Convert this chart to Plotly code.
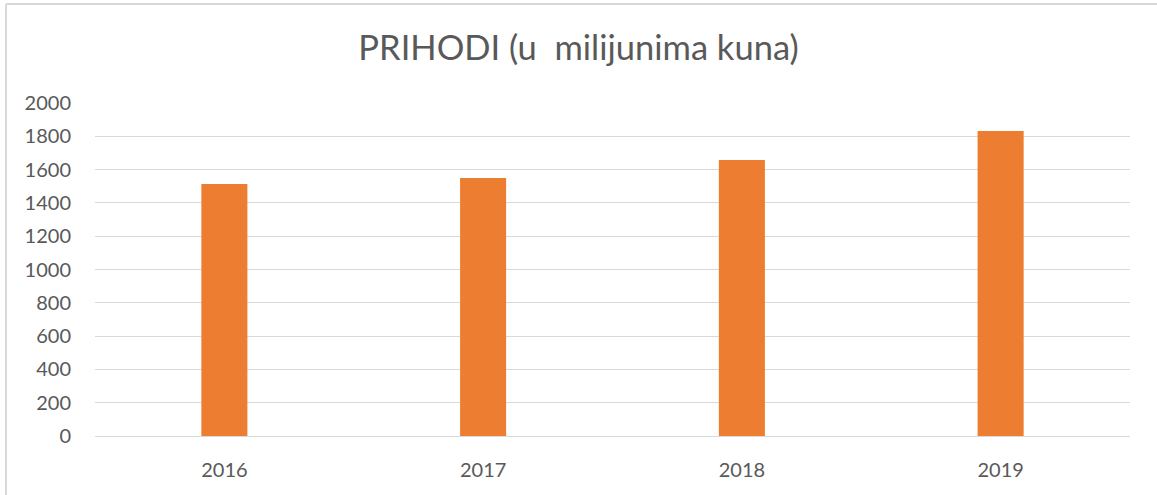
import plotly.graph_objects as go

years = ["2016", "2017", "2018", "2019"]
prihodi = [1513, 1550, 1658, 1832]
y_ticks = [0, 200, 400, 600, 800, 1000, 1200, 1400, 1600, 1800, 2000]

fig = go.Figure()
fig.add_trace(go.Bar(x=years, y=prihodi, marker=dict(color="#ED7D31", line=dict(width=0))))

fig.update_layout(
    width=1157, height=495,
    margin=dict(l=95, r=27, t=103, b=59),
    paper_bgcolor="white", plot_bgcolor="white",
    bargap=0.822,
    showlegend=False,
    font=dict(family="Lato, Open Sans, sans-serif", color="#595959", size=20),
    title=dict(text="PRIHODI (u&nbsp;&nbsp;milijunima kuna)", x=0.5, xanchor="center",
               y=1 - 48 / 495, yanchor="middle", xref="container", yref="container",
               font=dict(size=34.5, color="#595959", family="Lato, Open Sans, sans-serif")),
    xaxis=dict(showgrid=False, showline=False, ticks="", ticklabelstandoff=20,
               tickfont=dict(size=20)),
    yaxis=dict(range=[0, 2000], tickvals=y_ticks, showgrid=True, gridcolor="#D9D9D9",
               gridwidth=1, zeroline=True, zerolinecolor="#D9D9D9", zerolinewidth=1,
               showline=False, ticks="", ticklabelstandoff=23, tickfont=dict(size=20)),
    shapes=[
        dict(type="line", xref="paper", yref="paper", x0=-89/1035, x1=1.2, y0=1 + 99/333, y1=1 + 99/333,
             line=dict(color="#D9D9D9", width=2)),
        dict(type="line", xref="paper", yref="paper", x0=-89/1035, x1=-89/1035, y0=-0.3, y1=1 + 99/333,
             line=dict(color="#D9D9D9", width=2)),
    ],
)

fig.write_html("out.html", config={"displayModeBar": False},
               post_script="document.body.style.margin='0';document.body.style.overflow='hidden';")
